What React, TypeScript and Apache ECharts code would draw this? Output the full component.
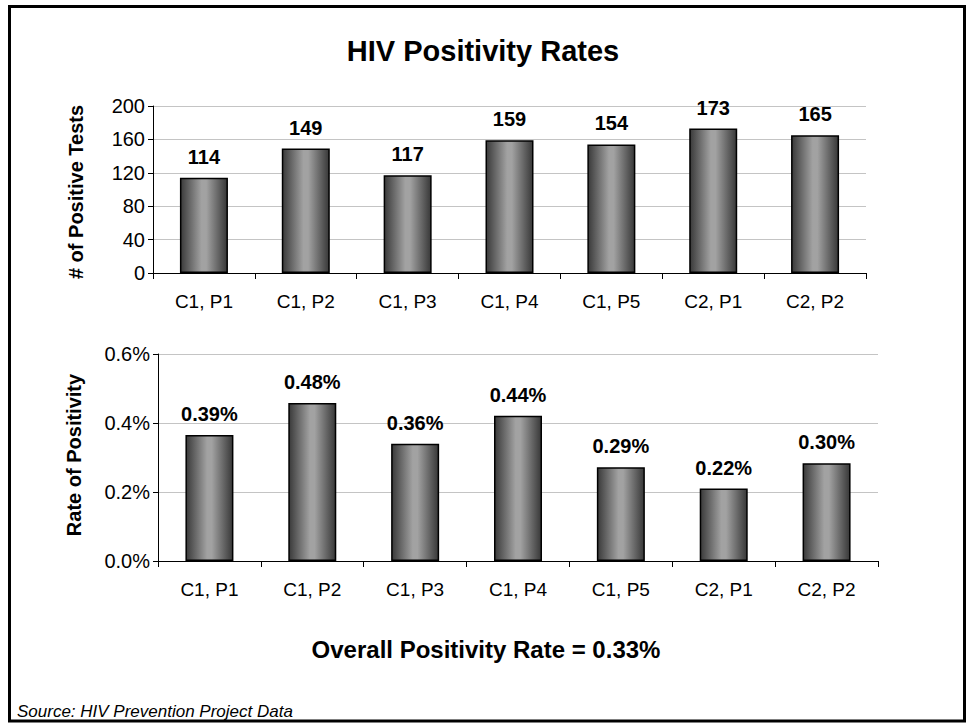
import React, { useEffect, useRef } from "react";
import * as echarts from "echarts";

const categories = ["C1, P1", "C1, P2", "C1, P3", "C1, P4", "C1, P5", "C2, P1", "C2, P2"];
const positiveTests = [114, 149, 117, 159, 154, 173, 165];
const positivityBars = [0.365, 0.458, 0.34, 0.421, 0.272, 0.21, 0.283];
const positivityLabels = ["0.39%", "0.48%", "0.36%", "0.44%", "0.29%", "0.22%", "0.30%"];
const testsTicks = { min: 0, max: 200, interval: 40 };
const rateTicks = { min: 0, max: 0.6, interval: 0.2 };

const FONT = '"Liberation Sans", Arial, Helvetica, sans-serif';

const barGradient = () =>
  new echarts.graphic.LinearGradient(0, 0, 1, 0, [
    { offset: 0, color: "#3a3a3a" },
    { offset: 0.45, color: "#a2a2a2" },
    { offset: 0.55, color: "#a2a2a2" },
    { offset: 1, color: "#383838" },
  ]);

export default function App() {
  const ref = useRef<HTMLDivElement>(null);
  useEffect(() => {
    if (!ref.current) return;
    const chart = echarts.init(ref.current, undefined, { renderer: "svg" });
    const axisLabel = { color: "#000", fontSize: 19, fontFamily: FONT };
    const xAxisCommon = (gridIndex: number) => ({
      type: "category" as const,
      gridIndex,
      data: categories,
      boundaryGap: true,
      axisLine: { show: true, lineStyle: { color: "#000", width: 1 } },
      axisTick: { show: true, interval: 0, length: 6, lineStyle: { color: "#000" } },
      axisLabel: { ...axisLabel, margin: 19, interval: 0 },
      splitLine: { show: false },
    });
    const yAxisCommon = (gridIndex: number, t: any, fmt: (v: number) => string) => ({
      type: "value" as const,
      gridIndex,
      min: t.min,
      max: t.max,
      interval: t.interval,
      axisLine: { show: true, lineStyle: { color: "#000", width: 1 } },
      axisTick: { show: true, length: 5, lineStyle: { color: "#000" } },
      axisLabel: { ...axisLabel, fontSize: 20, margin: 8, formatter: fmt },
      splitLine: { show: true, lineStyle: { color: "#c4c4c4", width: 1 } },
    });
    const labelStyle = {
      show: true,
      position: "top" as const,
      distance: 11,
      color: "#000",
      fontSize: 20,
      fontWeight: "bold" as const,
      fontFamily: FONT,
    };
    chart.setOption({
      animation: false,
      backgroundColor: "#fff",
      grid: [
        { left: 153, top: 106, width: 713, height: 167 },
        { left: 158, top: 354, width: 720, height: 207 },
      ],
      xAxis: [xAxisCommon(0), xAxisCommon(1)],
      yAxis: [
        yAxisCommon(0, testsTicks, (v: number) => String(v)),
        yAxisCommon(1, rateTicks, (v: number) => v.toFixed(1) + "%"),
      ],
      series: [
        {
          type: "bar",
          xAxisIndex: 0,
          yAxisIndex: 0,
          data: positiveTests,
          barWidth: 48,
          itemStyle: { color: barGradient(), borderColor: "#000", borderWidth: 1.5 },
          label: { ...labelStyle, formatter: (p: any) => String(positiveTests[p.dataIndex]) },
        },
        {
          type: "bar",
          xAxisIndex: 1,
          yAxisIndex: 1,
          data: positivityBars,
          barWidth: 48,
          itemStyle: { color: barGradient(), borderColor: "#000", borderWidth: 1.5 },
          label: { ...labelStyle, formatter: (p: any) => positivityLabels[p.dataIndex] },
        },
      ],
      graphic: [
        {
          type: "rect",
          shape: { x: 9.5, y: 6.5, width: 955, height: 714.5 },
          style: { fill: "none", stroke: "#000", lineWidth: 3 },
          silent: true,
        },
        {
          type: "text",
          x: 483,
          y: 51,
          style: {
            text: "HIV Positivity Rates",
            fill: "#000",
            font: `bold 29px ${FONT}`,
            textAlign: "center",
            textVerticalAlign: "middle",
          },
        },
        {
          type: "text",
          x: 486,
          y: 649,
          style: {
            text: "Overall Positivity Rate = 0.33%",
            fill: "#000",
            font: `bold 24px ${FONT}`,
            textAlign: "center",
            textVerticalAlign: "middle",
          },
        },
        {
          type: "text",
          x: 17,
          y: 711,
          style: {
            text: "Source: HIV Prevention Project Data",
            fill: "#000",
            font: `italic 17px ${FONT}`,
            textAlign: "left",
            textVerticalAlign: "middle",
          },
        },
        {
          type: "text",
          x: 76,
          y: 192,
          rotation: Math.PI / 2,
          style: {
            text: "# of Positive Tests",
            fill: "#000",
            font: `bold 20px ${FONT}`,
            textAlign: "center",
            textVerticalAlign: "middle",
          },
        },
        {
          type: "text",
          x: 74,
          y: 455,
          rotation: Math.PI / 2,
          style: {
            text: "Rate of Positivity",
            fill: "#000",
            font: `bold 20px ${FONT}`,
            textAlign: "center",
            textVerticalAlign: "middle",
          },
        },
      ],
    });
    return () => chart.dispose();
  }, []);
  return (
    <div
      ref={ref}
      style={{ position: "fixed", left: 0, top: 0, width: 967, height: 723, background: "#fff" }}
    />
  );
}
